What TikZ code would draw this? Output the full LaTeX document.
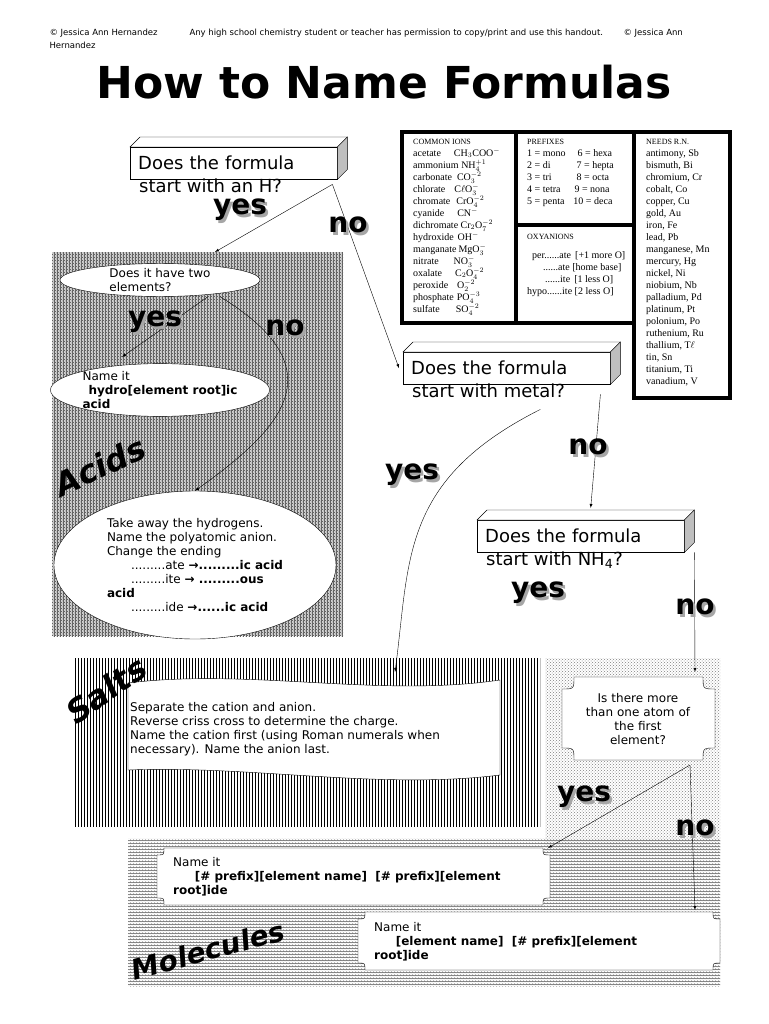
\documentclass[tikz,border=0pt]{standalone}
\usepackage{fontspec}
\setmainfont{DejaVu Sans}
\newfontfamily\tabfont{Liberation Serif}
\usetikzlibrary{patterns, shapes.geometric, positioning, calc}
\tikzset{
	every node/.style={
		font=\fontsize{12}{14}\selectfont
	},
	question/.style={
		shape=rectangle,
		draw,
		fill=white,
		minimum width=207pt,
		minimum height=32pt,
		inner sep=8pt,
		font=\fontsize{18}{20}\selectfont
	},
	oval/.style={
		shape=ellipse,
		draw,
		fill=white,
		inner sep=0pt
	},
	answer/.style={
		font=\fontsize{28}{30}\selectfont\bfseries
	},
	group/.style={
		font=\fontsize{32}{34}\selectfont\bfseries\itshape
	},
	flow/.style={
		-latex,
		thin
	},
	tabbox/.style={
		draw,
		line width=4pt,
		fill=white
	},
	tabtext/.style={
		anchor=north west,
		font=\tabfont\fontsize{10}{12}\selectfont,
		inner sep=0pt,
		align=left
	},
	notched/.style={
		draw,
		fill=white
	}
}
% shadowed answer word
\newcommand{\answer}[3]{%
	\node[answer, text=gray!70] at ($(#2)+(2.5,2.5)$) {#3};
	\node[answer] (#1) at (#2) {#3};
}
% fake small caps heading
\newcommand{\sch}[1]{{\fontsize{8}{10}\selectfont\MakeUppercase{#1}}}
% box with concave corners
\newcommand{\notchbox}[5]{%
	\filldraw[notched] (#1+#5,#2) -- (#3-#5,#2) .. controls (#3-#5,#2+#5) .. (#3,#2+#5)
		-- (#3,#4-#5) .. controls (#3-#5,#4-#5) .. (#3-#5,#4)
		-- (#1+#5,#4) .. controls (#1+#5,#4-#5) .. (#1,#4-#5)
		-- (#1,#2+#5) .. controls (#1+#5,#2+#5) .. (#1+#5,#2) -- cycle;
}
\begin{document}
\begin{tikzpicture}[x=1pt,y=-1pt]
	\useasboundingbox[fill=white] (0,0) rectangle (768,1024);
	
	% header
	\node[font=\fontsize{8.5}{10}\selectfont, anchor=west] (hdrl) at (46,33) {© Jessica Ann Hernandez};
	\node[font=\fontsize{8.5}{10}\selectfont, anchor=west] (hdrl2) at (46,45) {Hernandez};
	\node[font=\fontsize{8.5}{10}\selectfont, anchor=west] (hdrm) at (186,33) {Any high school chemistry student or teacher has permission to copy/print and use this handout.};
	\node[font=\fontsize{8.5}{10}\selectfont, anchor=west] (hdrr) at (620,33) {© Jessica Ann};
	\node[font=\fontsize{44}{46}\selectfont\bfseries] (title) at (384,82) {How to Name Formulas};
	
	% shaded areas
	\fill[gray!35] (52,252) rectangle (343,636);
	\fill[pattern=vertical lines, pattern color=gray!80!black] (52,252) rectangle (343,636);
	\fill[pattern=crosshatch dots, pattern color=black!70] (52,252) rectangle (343,636);
	\fill[pattern=vertical lines] (75,658) rectangle (540,826);
	\fill[pattern=vertical lines] (75,658) rectangle (540,826);
	\fill[pattern=crosshatch dots, pattern color=gray] (545,658) rectangle (720,852);
	\fill[pattern=horizontal lines, pattern color=gray] (128,838) rectangle (720,986);
	\fill[pattern=crosshatch dots, pattern color=gray!60] (128,838) rectangle (720,986);
	
	% tables
	\draw[tabbox] (402,132) rectangle (634,323);
	\draw[tabbox] (634,132) rectangle (730,398);
	\draw[line width=4pt] (516,132) -- (516,323);
	\draw[line width=4pt] (516,225) -- (634,225);
	\node[tabtext] (ions) at (413,139) {\sch{Common Ions}\\
		acetate\hspace{1.3em}CH$_3$COO$^-$\\
		ammonium NH$_4^{+1}$\\
		carbonate\hspace{0.5em}CO$_3^{-2}$\\
		chlorate\hspace{0.9em}C$\ell$O$_3^-$\\
		chromate\hspace{0.6em}CrO$_4^{-2}$\\
		cyanide\hspace{1.3em}CN$^-$\\
		dichromate Cr$_2$O$_7^{-2}$\\
		hydroxide\hspace{0.4em}OH$^-$\\
		manganate\hspace{0.2em}MgO$_3^-$\\
		nitrate\hspace{1.5em}NO$_3^-$\\
		oxalate\hspace{1.3em}C$_2$O$_4^{-2}$\\
		peroxide\hspace{0.9em}O$_2^{-2}$\\
		phosphate\hspace{0.3em}PO$_4^{-3}$\\
		sulfate\hspace{1.6em}SO$_4^{-2}$};
	\node[tabtext] (prefixes) at (527,139) {\sch{Prefixes}\\
		1 = mono\hspace{1.2em}6 = hexa\\
		2 = di\hspace{2.6em}7 = hepta\\
		3 = tri\hspace{2.5em}8 = octa\\
		4 = tetra\hspace{1.4em}9 = nona\\
		5 = penta\hspace{0.9em}10 = deca};
	\node[tabtext] (oxy) at (527,234) {\sch{Oxyanions}\\[7pt]
		\hspace{0.5em}per......ate\, [+1 more O]\\
		\hspace{1.6em}......ate [home base]\\
		\hspace{1.8em}......ite\, [1 less O]\\
		hypo......ite [2 less O]};
	\node[tabtext] (needs) at (646,139) {\sch{Needs R.N.}\\
		antimony, Sb\\ bismuth, Bi\\ chromium, Cr\\ cobalt, Co\\ copper, Cu\\ gold, Au\\
		iron, Fe\\ lead, Pb\\ manganese, Mn\\ mercury, Hg\\ nickel, Ni\\ niobium, Nb\\
		palladium, Pd\\ platinum, Pt\\ polonium, Po\\ ruthenium, Ru\\ thallium, T$\ell$\\
		tin, Sn\\ titanium, Ti\\ vanadium, V};
	
	% question boxes
	\node[question, anchor=north west, text width=191pt] (q1) at (130,147) {Does the formula};
	\node[question, anchor=north west, text width=191pt] (q2) at (403,352) {Does the formula};
	\node[question, anchor=north west, text width=191pt] (q3) at (477,520) {Does the formula};
	\foreach \q/\t in {q1/start with an H?, q2/start with metal?, q3/start with NH\textsubscript{4}?}{
		\filldraw[fill=white] (\q.north west) -- ++(10,-10) -- ($(\q.north east)+(10,-10)$) -- (\q.north east) -- cycle;
		\filldraw[fill=gray!50] (\q.north east) -- ++(10,-10) -- ($(\q.south east)+(10,-10)$) -- (\q.south east) -- cycle;
		\node[anchor=north west, font=\fontsize{18}{20}\selectfont, inner sep=0pt] at ($(\q.south west)+(9,-1)$) {\t};
	}
	
	% acids
	\node[oval, minimum width=200pt, minimum height=32pt, align=left] (two) at (160,280) {Does it have two\\elements?};
	\node[oval, minimum width=212pt, minimum height=48pt, align=left] (hydro) at (160,390) {Name it\\\hspace{0.5em}\textbf{hydro[element root]ic}\\\textbf{acid}};
	\node[oval, minimum width=282pt, minimum height=148pt, align=left] (poly) at (195,565) {Take away the hydrogens.\\
		Name the polyatomic anion.\\
		Change the ending\\
		\hspace{2em}.........ate \textbf{→.........ic acid}\\
		\hspace{2em}.........ite \textbf{→ .........ous}\\
		\textbf{acid}\\
		\hspace{2em}.........ide \textbf{→......ic acid}};
	\node[group, rotate=25] (acids) at (100,466) {Acids};
	
	% salts
	\filldraw[fill=white] (128,683) .. controls (250,668) and (380,698) .. (500,680)
		-- (500,775) .. controls (380,790) and (250,765) .. (128,770) -- cycle;
	\node[anchor=north west, align=left, inner sep=0pt] (salt) at (130,702) {Separate the cation and anion.\\
		Reverse criss cross to determine the charge.\\
		Name the cation first (using Roman numerals when\\
		necessary). Name the anion last.};
	\node[group, rotate=35] (salts) at (106,690) {Salts};
	
	% molecules
	\notchbox{562}{677}{715}{760}{12}
	\node[align=center, text width=120pt] (more) at (638,719) {Is there more\\than one atom of\\the first\\element?};
	\notchbox{157}{848}{550}{905}{7}
	\node[anchor=north west, align=left, inner sep=0pt] (mol1) at (173,857) {Name it\\\hspace{1.8em}\textbf{[\# prefix][element name]\ \ [\# prefix][element}\\\textbf{root]ide}};
	\notchbox{358}{912}{720}{970}{7}
	\node[anchor=north west, align=left, inner sep=0pt] (mol2) at (374,922) {Name it\\\hspace{1.8em}\textbf{[element name]\ \ [\# prefix][element}\\\textbf{root]ide}};
	\node[group, font=\fontsize{28}{30}\selectfont\bfseries\itshape, rotate=15] (molecules) at (208,950) {Molecules};
	\coordinate (m1top) at (548,848);
	\coordinate (m2top) at (695,910);
	\coordinate (moretop) at (695,672);
	\coordinate (morebot) at (690,765);
	\coordinate (saltin) at (395,672);
	
	% connectors
	\draw[flow] ($(q1.south east)+(-5,5)$) -- (215,252);
	\draw[flow] ($(q1.south east)+(-5,5)$) -- ($(q2.west)+(-4,0)$);
	\draw[flow] (two.south) ++(48,0) -- (122,357);
	\draw[flow] (two.south) ++(60,0) .. controls (340,370) and (280,430) .. (poly.north);
	\draw[flow] ($(q2.south east)+(-10,10)$) -- ($(q3.north)+(10,-12)$);
	\draw[flow] ($(q2.south east)+(-70,25)$) .. controls (400,480) and (410,560) .. (saltin);
	\draw[flow] ($(q3.south east)+(10,0)$) -- (moretop);
	\draw[flow] (morebot) -- (m1top);
	\draw[flow] (morebot) -- (m2top);
	
	% answers
	\answer{yes1}{240,210}{yes}
	\answer{no1}{348,225}{no}
	\answer{yes2}{155,322}{yes}
	\answer{no2}{285,328}{no}
	\answer{no3}{588,447}{no}
	\answer{yes3}{412,475}{yes}
	\answer{yes4}{538,593}{yes}
	\answer{no4}{695,607}{no}
	\answer{yes5}{584,797}{yes}
	\answer{no5}{695,828}{no}
\end{tikzpicture}
\end{document}
